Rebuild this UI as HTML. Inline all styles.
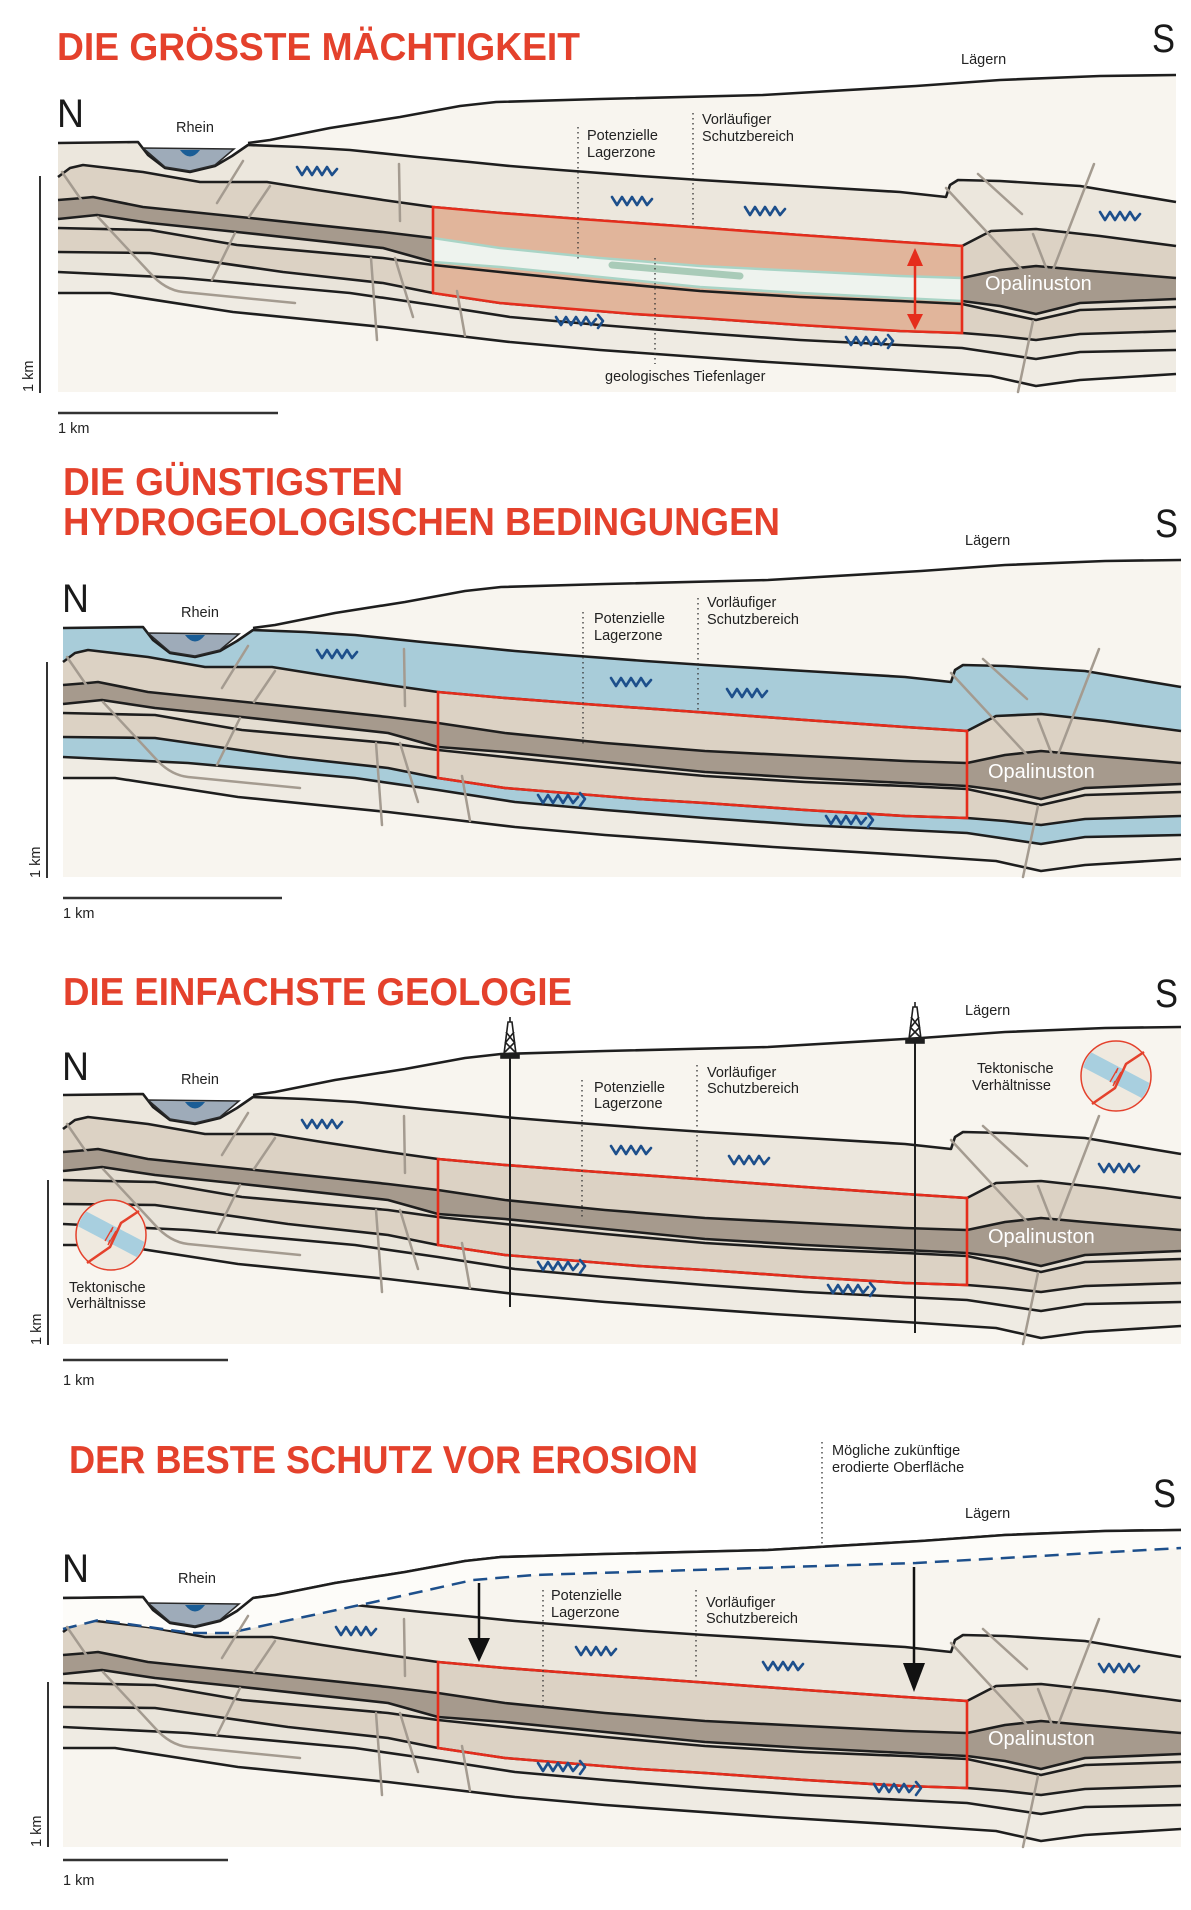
<!DOCTYPE html>
<html><head><meta charset="utf-8"><style>
html,body{margin:0;padding:0;background:#fff;}
svg{display:block;}
.t{font-family:"Liberation Sans Narrow","Liberation Sans",sans-serif;font-weight:bold;fill:#e4412c;font-size:39px;}
.l{font-family:"Liberation Sans",sans-serif;font-size:14.5px;fill:#222;}
.big{font-family:"Liberation Sans Narrow","Liberation Sans",sans-serif;font-size:40px;fill:#1a1a1a;}
.opa{font-family:"Liberation Sans",sans-serif;font-size:20px;fill:#fff;}
.bd{fill:none;stroke:#1e1e1e;stroke-width:2.6;stroke-linejoin:round;}
.f{fill:none;stroke:#a49b90;stroke-width:2.5;stroke-linecap:round;}
.dot{stroke:#333;stroke-width:1.3;stroke-dasharray:1.5 3.5;}
.wv{fill:none;stroke:#1d4f8b;stroke-width:2.6;stroke-linejoin:round;stroke-linecap:round;}
</style></head><body>
<svg width="1191" height="1910" viewBox="0 0 1191 1910" xmlns="http://www.w3.org/2000/svg" xmlns:xlink="http://www.w3.org/1999/xlink">
<defs>
<path id="rBG" d="M58,392 L58,143 138,142 148,155 165,168 190,172 215,166 232,156 248,143 270,140 330,128 400,117 460,106 496,102 600,99 763,95 916,86 1000,80 1100,76 1176,75 L1176,392Z"/>
<path id="rTR" d="M58,392 L58,143 138,142 148,155 165,168 190,172 215,166 232,156 248,145 300,147 350,150 417,157 470,162 510,166 560,170 640,176 700,180 800,186 900,192 946,197 950,185 958,180 1000,181 1080,186 1176,202 L1176,392Z"/>
<path id="rB2" d="M58,392 L58,177 70,168 83,165 143,172 200,182 267,182 317,190 383,200 433,207 500,213 580,219 692,227 800,235 900,242 962,246 991,231 1036,229 1100,236 1176,246 L1176,392Z"/>
<path id="rB3" d="M58,392 L58,200 83,198 93,197 143,207 250,218 383,232 433,238 500,248 600,258 700,266 800,271 900,276 962,278 1000,270 1036,266 1080,270 1176,278 L1176,392Z"/>
<path id="rB4" d="M58,392 L58,219 97,215 150,223 237,232 383,248 433,262 500,267 600,277 700,287 800,293 900,298 962,301 1000,306 1036,314 1080,303 1176,299 L1176,392Z"/>
<path id="rB5" d="M58,392 L58,228 150,230 237,245 383,258 433,265 500,272 600,282 700,291 800,297 900,301 962,304 1036,320 1080,310 1176,307 L1176,392Z"/>
<path id="rB6" d="M58,392 L58,252 150,253 283,272 383,283 433,293 500,303 634,314 700,318 800,325 900,331 962,333 1000,336 1036,340 1080,334 1176,331 L1176,392Z"/>
<path id="rB7" d="M58,392 L58,272 183,278 350,293 433,305 510,317 600,325 700,333 800,340 900,345 962,348 1036,359 1080,352 1176,350 L1176,392Z"/>
<path id="rB8" d="M58,392 L58,293 110,293 233,312 383,327 510,342 600,350 768,362 900,370 991,376 1036,386 1080,380 1176,374 L1176,392Z"/>
<g id="strokes">
<polyline class="bd" stroke-width="2" points="248,143 270,140 330,128 400,117 460,106 496,102 600,99 763,95 916,86 1000,80 1100,76 1176,75"/>
<polyline class="bd" points="58,143 138,142 148,155 165,168 190,172 215,166 232,156 248,145 300,147 350,150 417,157 470,162 510,166 560,170 640,176 700,180 800,186 900,192 946,197 950,185 958,180 1000,181 1080,186 1176,202"/>
<polyline class="bd" points="58,177 70,168 83,165 143,172 200,182 267,182 317,190 383,200 433,207 500,213 580,219 692,227 800,235 900,242 962,246 991,231 1036,229 1100,236 1176,246"/>
<polyline class="bd" points="58,200 83,198 93,197 143,207 250,218 383,232 433,238 500,248 600,258 700,266 800,271 900,276 962,278 1000,270 1036,266 1080,270 1176,278"/>
<polyline class="bd" points="58,219 97,215 150,223 237,232 383,248 433,262 500,267 600,277 700,287 800,293 900,298 962,301 1000,306 1036,314 1080,303 1176,299"/>
<polyline class="bd" points="58,228 150,230 237,245 383,258 433,265 500,272 600,282 700,291 800,297 900,301 962,304 1036,320 1080,310 1176,307"/>
<polyline class="bd" points="58,252 150,253 283,272 383,283 433,293 500,303 634,314 700,318 800,325 900,331 962,333 1000,336 1036,340 1080,334 1176,331"/>
<polyline class="bd" points="58,272 183,278 350,293 433,305 510,317 600,325 700,333 800,340 900,345 962,348 1036,359 1080,352 1176,350"/>
<polyline class="bd" points="58,293 110,293 233,312 383,327 510,342 600,350 768,362 900,370 991,376 1036,386 1080,380 1176,374"/>
</g>
<g id="faults">
<polyline class="f" points="62,172 82,201"/>
<path class="f" d="M98,217 L150,273 Q165,290 183,292 L295,303"/>
<polyline class="f" points="243,161 217,203"/>
<polyline class="f" points="270,186 249,217"/>
<polyline class="f" points="235,233 212,280"/>
<polyline class="f" points="399,164 400,221"/>
<polyline class="f" points="371,258 377,340"/>
<polyline class="f" points="395,258 413,317"/>
<polyline class="f" points="457,291 465,336"/>
<polyline class="f" points="978,174 1022,214"/>
<polyline class="f" points="946,188 1022,270"/>
<polyline class="f" points="1094,164 1053,270"/>
<polyline class="f" points="1033,234 1047,270"/>
<polyline class="f" points="1033,321 1018,392"/>
</g>
<g id="rhein">
<polygon points="143,148 165,167 190,171 215,165 234,149" fill="#9eabb9" stroke="#2a2a2a" stroke-width="1.5"/>
<path d="M180,150 Q190,163 200,150 Z" fill="#1a5d96"/>
</g>
<polyline id="wave" class="wv" points="0,0 5,8 10,0 15,8 20,0 25,8 30,0 35,8 40,2"/>
<g id="wavea"><polyline class="wv" points="0,0 5,8 10,0 15,8 20,0 25,8 30,0 35,8 40,2"/><polyline class="wv" points="42,-2 47,4 42,11"/></g>
<polygon id="box" points="433,207 500,213 580,219 692,227 800,235 900,242 962,246 962,333 900,331 800,325 700,318 634,314 500,303 433,293"/>
<g id="tek">
<clipPath id="cc"><circle cx="0" cy="0" r="34"/></clipPath>
<circle r="35" fill="#efe9df"/>
<line x1="-40" y1="-22" x2="40" y2="20" stroke="#a8cfdf" stroke-width="17" clip-path="url(#cc)"/>
<polyline points="-24,28 -1,12 10,-12 28,-24" fill="none" stroke="#e4412c" stroke-width="2.5"/>
<polyline points="-6,6 2,-8 0,-3" fill="none" stroke="#e4412c" stroke-width="1.3"/>
<polyline points="5,-4 -3,10 -1,5" fill="none" stroke="#e4412c" stroke-width="1.3"/>
<circle r="35" fill="none" stroke="#e4412c" stroke-width="1.5"/>
</g>
<g id="derrick" fill="none" stroke="#1e1e1e" stroke-width="1.6">
<polygon points="-2,0 2,0 6,32 -6,32"/>
<line x1="-4" y1="10" x2="4" y2="20"/><line x1="4" y1="10" x2="-4" y2="20"/>
<line x1="-5" y1="20" x2="5" y2="30"/><line x1="5" y1="20" x2="-5" y2="30"/>
<line x1="0" y1="-5" x2="0" y2="0"/>
<rect x="-9" y="32" width="18" height="4" fill="#1e1e1e"/>
</g>
</defs>

<!-- ================= PANEL 1 ================= -->
<text class="t" x="57" y="60" textLength="523" lengthAdjust="spacingAndGlyphs">DIE GRÖSSTE MÄCHTIGKEIT</text>
<g>
<use href="#rBG" fill="#f8f5ef"/>
<use href="#rTR" fill="#ece7dd"/>
<use href="#rB2" fill="#dcd2c4"/>
<use href="#rB3" fill="#a69a8d"/>
<use href="#rB4" fill="#e4ddd1"/>
<use href="#rB5" fill="#dcd2c4"/>
<use href="#rB6" fill="#e9e4da"/>
<use href="#rB7" fill="#efebe3"/>
<use href="#rB8" fill="#f8f5ef"/>
<use href="#strokes"/>
<use href="#box" fill="#e1b59b"/>
<polygon points="433,238 500,248 600,258 700,266 800,271 900,276 962,278 962,301 900,298 800,293 700,287 600,277 500,267 433,262" fill="#eef3ee" stroke="#a9d4c6" stroke-width="2.5"/>
<line x1="612" y1="265" x2="740" y2="276" stroke="#a9cbb8" stroke-width="7" stroke-linecap="round"/>
<polyline class="bd" points="433,265 500,272 600,282 700,291 800,297 900,301 962,304"/>
<use href="#box" fill="none" stroke="#e52d1c" stroke-width="2.6"/>
<use href="#faults"/>
<use href="#rhein"/>
<line x1="578" y1="127" x2="578" y2="262" class="dot"/>
<line x1="693" y1="113" x2="693" y2="225" class="dot"/>
<line x1="655" y1="258" x2="655" y2="364" class="dot"/>
<line x1="915" y1="262" x2="915" y2="318" stroke="#e52d1c" stroke-width="2.5"/>
<polygon points="907,266 923,266 915,248" fill="#e52d1c"/>
<polygon points="907,314 923,314 915,330" fill="#e52d1c"/>
<use href="#wave" x="297" y="167"/><use href="#wave" x="612" y="197"/><use href="#wave" x="745" y="207"/><use href="#wave" x="1100" y="212"/>
<use href="#wavea" x="556" y="317"/><use href="#wavea" x="846" y="337"/>
<text class="opa" x="985" y="290">Opalinuston</text>
<text class="l" x="176" y="132">Rhein</text>
<text class="l" x="587" y="140">Potenzielle</text><text class="l" x="587" y="157">Lagerzone</text>
<text class="l" x="702" y="124">Vorläufiger</text><text class="l" x="702" y="141">Schutzbereich</text>
<text class="l" x="605" y="381">geologisches Tiefenlager</text>
<text class="l" x="961" y="64">Lägern</text>
</g>
<text class="big" x="57" y="127" textLength="27" lengthAdjust="spacingAndGlyphs">N</text>
<text class="big" x="1152" y="52" textLength="23" lengthAdjust="spacingAndGlyphs">S</text>
<line x1="40" y1="176" x2="40" y2="393" stroke="#333" stroke-width="2"/>
<text class="l" transform="translate(33,392) rotate(-90)">1 km</text>
<line x1="58" y1="413" x2="278" y2="413" stroke="#333" stroke-width="2.5"/>
<text class="l" x="58" y="433">1 km</text>

<!-- ================= PANEL 2 ================= -->
<text class="t" x="63" y="495" textLength="340" lengthAdjust="spacingAndGlyphs">DIE GÜNSTIGSTEN</text>
<text class="t" x="63" y="535" textLength="717" lengthAdjust="spacingAndGlyphs">HYDROGEOLOGISCHEN BEDINGUNGEN</text>
<g transform="translate(5,485)">
<use href="#rBG" fill="#f8f5ef"/>
<use href="#rTR" fill="#a8ccd9"/>
<use href="#rB2" fill="#dcd2c4"/>
<use href="#rB3" fill="#a69a8d"/>
<use href="#rB4" fill="#e4ddd1"/>
<use href="#rB5" fill="#dcd2c4"/>
<use href="#rB6" fill="#a8ccd9"/>
<use href="#rB7" fill="#efebe3"/>
<use href="#rB8" fill="#f8f5ef"/>
<use href="#strokes"/>
<use href="#box" fill="none" stroke="#e52d1c" stroke-width="2.6"/>
<use href="#faults"/>
<use href="#rhein"/>
<line x1="578" y1="127" x2="578" y2="262" class="dot"/>
<line x1="693" y1="113" x2="693" y2="225" class="dot"/>
<use href="#wave" x="312" y="165"/><use href="#wave" x="606" y="193"/><use href="#wave" x="722" y="204"/>
<use href="#wavea" x="533" y="310"/><use href="#wavea" x="821" y="331"/>
<text class="opa" x="983" y="293">Opalinuston</text>
<text class="l" x="176" y="132">Rhein</text>
<text class="l" x="589" y="138">Potenzielle</text><text class="l" x="589" y="155">Lagerzone</text>
<text class="l" x="702" y="122">Vorläufiger</text><text class="l" x="702" y="139">Schutzbereich</text>
<text class="l" x="960" y="60">Lägern</text>
<text class="big" x="57" y="127" textLength="27" lengthAdjust="spacingAndGlyphs">N</text>
<text class="big" x="1150" y="52" textLength="23" lengthAdjust="spacingAndGlyphs">S</text>
</g>
<line x1="47" y1="662" x2="47" y2="878" stroke="#333" stroke-width="2"/>
<text class="l" transform="translate(40,878) rotate(-90)">1 km</text>
<line x1="63" y1="898" x2="282" y2="898" stroke="#333" stroke-width="2.5"/>
<text class="l" x="63" y="918">1 km</text>

<!-- ================= PANEL 3 ================= -->
<text class="t" x="63" y="1005" textLength="509" lengthAdjust="spacingAndGlyphs">DIE EINFACHSTE GEOLOGIE</text>
<g transform="translate(5,952)">
<use href="#rBG" fill="#f8f5ef"/>
<use href="#rTR" fill="#ece7dd"/>
<use href="#rB2" fill="#dcd2c4"/>
<use href="#rB3" fill="#a69a8d"/>
<use href="#rB4" fill="#e4ddd1"/>
<use href="#rB5" fill="#dcd2c4"/>
<use href="#rB6" fill="#e9e4da"/>
<use href="#rB7" fill="#efebe3"/>
<use href="#rB8" fill="#f8f5ef"/>
<use href="#strokes"/>
<use href="#box" fill="none" stroke="#e52d1c" stroke-width="2.6"/>
<use href="#faults"/>
<use href="#rhein"/>
<line x1="577" y1="128" x2="577" y2="265" class="dot"/>
<line x1="692" y1="113" x2="692" y2="228" class="dot"/>
<line x1="505" y1="104" x2="505" y2="355" stroke="#1e1e1e" stroke-width="2"/>
<line x1="910" y1="90" x2="910" y2="381" stroke="#1e1e1e" stroke-width="2"/>
<use href="#derrick" x="505" y="70"/>
<use href="#derrick" x="910" y="55"/>
<use href="#tek" x="1111" y="124"/>
<use href="#tek" x="106" y="283"/>
<use href="#wave" x="297" y="168"/><use href="#wave" x="606" y="194"/><use href="#wave" x="724" y="204"/><use href="#wave" x="1094" y="212"/>
<use href="#wavea" x="533" y="310"/><use href="#wavea" x="823" y="333"/>
<text class="opa" x="983" y="291">Opalinuston</text>
<text class="l" x="176" y="132">Rhein</text>
<text class="l" x="589" y="140">Potenzielle</text><text class="l" x="589" y="156">Lagerzone</text>
<text class="l" x="702" y="125">Vorläufiger</text><text class="l" x="702" y="141">Schutzbereich</text>
<text class="l" x="960" y="63">Lägern</text>
<text class="l" x="972" y="121">Tektonische</text><text class="l" x="967" y="138">Verhältnisse</text>
<text class="l" x="64" y="340">Tektonische</text><text class="l" x="62" y="356">Verhältnisse</text>
<text class="big" x="57" y="128" textLength="27" lengthAdjust="spacingAndGlyphs">N</text>
<text class="big" x="1150" y="55" textLength="23" lengthAdjust="spacingAndGlyphs">S</text>
</g>
<line x1="48" y1="1180" x2="48" y2="1345" stroke="#333" stroke-width="2"/>
<text class="l" transform="translate(41,1345) rotate(-90)">1 km</text>
<line x1="63" y1="1360" x2="228" y2="1360" stroke="#333" stroke-width="2.5"/>
<text class="l" x="63" y="1385">1 km</text>

<!-- ================= PANEL 4 ================= -->
<text class="t" x="69" y="1473" textLength="629" lengthAdjust="spacingAndGlyphs">DER BESTE SCHUTZ VOR EROSION</text>
<g transform="translate(5,1455)">
<use href="#rBG" fill="#f8f5ef"/>
<use href="#rTR" fill="#ece7dd"/>
<use href="#rB2" fill="#dcd2c4"/>
<use href="#rB3" fill="#a69a8d"/>
<use href="#rB4" fill="#e4ddd1"/>
<use href="#rB5" fill="#dcd2c4"/>
<use href="#rB6" fill="#e9e4da"/>
<use href="#rB7" fill="#efebe3"/>
<use href="#rB8" fill="#f8f5ef"/>
<use href="#strokes"/>
<polygon points="58,143 138,142 148,155 165,168 190,172 215,166 232,156 248,143 270,140 330,128 400,117 460,106 496,102 600,99 763,95 916,86 1000,80 1100,76 1176,75 1176,93 911,108 529,120 468,125 369,147 224,178 186,178 94,165 58,174" fill="#fdfcf9"/>
<polyline class="bd" stroke-width="2" points="58,143 138,142 148,155 165,168 190,172 215,166 232,156 248,143 270,140 330,128 400,117 460,106 496,102 600,99 763,95 916,86 1000,80 1100,76 1176,75"/>
<polyline points="58,174 94,165 186,178 224,178 369,147 468,125 529,120 911,108 1176,93" fill="none" stroke="#1d4f8b" stroke-width="2.5" stroke-dasharray="14 8"/>
<use href="#box" fill="none" stroke="#e52d1c" stroke-width="2.6"/>
<use href="#faults"/>
<use href="#rhein"/>
<line x1="538" y1="135" x2="538" y2="255" class="dot"/>
<line x1="691" y1="135" x2="691" y2="225" class="dot"/>
<line x1="817" y1="-13" x2="817" y2="93" class="dot"/>
<line x1="474" y1="128" x2="474" y2="186" stroke="#111" stroke-width="2.5"/>
<polygon points="463,183 485,183 474,207" fill="#111"/>
<line x1="909" y1="112" x2="909" y2="212" stroke="#111" stroke-width="2.5"/>
<polygon points="898,208 920,208 909,237" fill="#111"/>
<use href="#wave" x="331" y="172"/><use href="#wave" x="571" y="192"/><use href="#wave" x="758" y="207"/><use href="#wave" x="1094" y="209"/>
<use href="#wavea" x="533" y="308"/><use href="#wavea" x="869" y="329"/>
<text class="opa" x="983" y="290">Opalinuston</text>
<text class="l" x="173" y="128">Rhein</text>
<text class="l" x="546" y="145">Potenzielle</text><text class="l" x="546" y="162">Lagerzone</text>
<text class="l" x="701" y="152">Vorläufiger</text><text class="l" x="701" y="168">Schutzbereich</text>
<text class="l" x="827" y="0">Mögliche zukünftige</text><text class="l" x="827" y="17">erodierte Oberfläche</text>
<text class="l" x="960" y="63">Lägern</text>
<text class="big" x="57" y="127" textLength="27" lengthAdjust="spacingAndGlyphs">N</text>
<text class="big" x="1148" y="52" textLength="23" lengthAdjust="spacingAndGlyphs">S</text>
</g>
<line x1="48" y1="1682" x2="48" y2="1847" stroke="#333" stroke-width="2"/>
<text class="l" transform="translate(41,1847) rotate(-90)">1 km</text>
<line x1="63" y1="1860" x2="228" y2="1860" stroke="#333" stroke-width="2.5"/>
<text class="l" x="63" y="1885">1 km</text>
</svg>
</body></html>
